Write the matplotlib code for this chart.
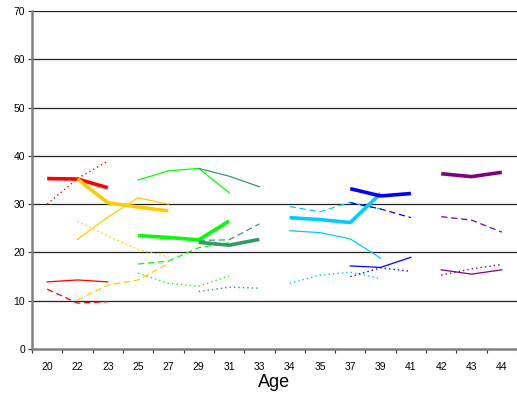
import matplotlib
matplotlib.use("Agg")
import matplotlib.pyplot as plt
import numpy as np

plt.rcParams['font.family'] = ['Liberation Sans', 'DejaVu Sans']

ages = ['20', '22', '23', '25', '27', '29', '31', '33', '34', '35', '37', '39', '41', '42', '43', '44']

# Red group
red_ages = ['20', '22', '23']
red_thick = [35.3, 35.2, 33.4]
red_thin = [13.9, 14.3, 13.9]
red_dash = [12.4, 9.5, 9.8]
red_dot = [30.0, 35.3, 38.9]

# Yellow group
yel_ages = ['22', '23', '25', '27']
yel_thick = [35.2, 30.3, 29.4, 28.6]
yel_thin = [22.7, 27.3, 31.3, 30.0]
yel_dash = [10.2, 13.2, 14.3, 17.7]
yel_dot = [26.5, 23.4, 20.6, 19.1]

# Lime group
lime_ages = ['25', '27', '29', '31']
lime_thick = [23.5, 23.1, 22.6, 26.5]
lime_thin = [35.0, 36.9, 37.4, 32.4]
lime_dash = [17.6, 18.2, 21.0, 22.0]
lime_dot = [15.7, 13.6, 13.0, 15.1]

# Sea green group
sg_ages = ['29', '31', '33']
sg_thick = [22.1, 21.5, 22.7]
sg_thin = [37.4, 35.8, 33.6]
sg_dash = [22.5, 22.6, 25.9]
sg_dot = [11.9, 12.8, 12.6]

# Cyan group
cy_ages = ['34', '35', '37', '39']
cy_thick = [27.2, 26.8, 26.2, 32.2]
cy_thin = [24.5, 24.1, 22.8, 18.8]
cy_dash = [29.5, 28.4, 30.4, 29.0]
cy_dot = [13.6, 15.3, 15.9, 14.6]

# Blue group
bl_ages = ['37', '39', '41']
bl_thick = [33.2, 31.7, 32.2]
bl_thin = [17.2, 16.9, 19.0]
bl_dash = [30.3, 29.0, 27.2]
bl_dot = [15.0, 16.8, 16.1]

# Purple group
pu_ages = ['42', '43', '44']
pu_thick = [36.3, 35.7, 36.6]
pu_thin = [16.4, 15.5, 16.4]
pu_dash = [27.4, 26.7, 24.2]
pu_dot = [15.3, 16.6, 17.5]

groups = [
    (red_ages, red_thick, red_thin, red_dash, red_dot, '#FF0000'),
    (yel_ages, yel_thick, yel_thin, yel_dash, yel_dot, '#FFCC00'),
    (lime_ages, lime_thick, lime_thin, lime_dash, lime_dot, '#00FF00'),
    (sg_ages, sg_thick, sg_thin, sg_dash, sg_dot, '#339966'),
    (cy_ages, cy_thick, cy_thin, cy_dash, cy_dot, '#00CCFF'),
    (bl_ages, bl_thick, bl_thin, bl_dash, bl_dot, '#0000FF'),
    (pu_ages, pu_thick, pu_thin, pu_dash, pu_dot, '#800080'),
]

fig = plt.figure(figsize=(5.17, 3.98), dpi=100)
ax = fig.add_axes([32/517, 1-349/398, 1-32/517, (349-11)/398])

for (ga, thick, thin, dash, dot, col) in groups:
    xs = [ages.index(a) for a in ga]
    ax.plot(xs, dot, color=col, lw=1.0, ls=(0, (1, 2.2)), zorder=3)
    ax.plot(xs, dash, color=col, lw=0.9, ls=(0, (5, 3)), zorder=3)
    ax.plot(xs, thin, color=col, lw=0.9, ls='-', zorder=3)
    ax.plot(xs, thick, color=col, lw=2.6, ls='-', solid_capstyle='butt', zorder=4)

ax.set_xlim(-0.5, len(ages) - 0.5)
ax.set_ylim(0, 70)
ax.set_yticks(np.arange(0, 71, 10))
ax.set_xticks(range(len(ages)))
ax.set_xticklabels(ages)
ax.set_xticks(np.arange(-0.5, len(ages), 1.0), minor=True)
ax.tick_params(axis='x', which='major', length=0, pad=9, labelsize=7.5)
ax.tick_params(axis='x', which='minor', length=3, width=0.8, direction='out', color='#333333')
ax.tick_params(axis='y', which='major', length=3, width=0.8, direction='out', labelsize=7.5, pad=2, color='#333333')

for v in range(10, 71, 10):
    ax.axhline(v, color='#222222', lw=0.9, zorder=1)

for s in ['top', 'right']:
    ax.spines[s].set_visible(False)
ax.spines['left'].set_color('#808080')
ax.spines['left'].set_linewidth(1.8)
ax.spines['bottom'].set_color('#808080')
ax.spines['bottom'].set_linewidth(1.8)

ax.set_xlabel('Age', fontsize=13, labelpad=2)

fig.savefig('out.png', dpi=100)
